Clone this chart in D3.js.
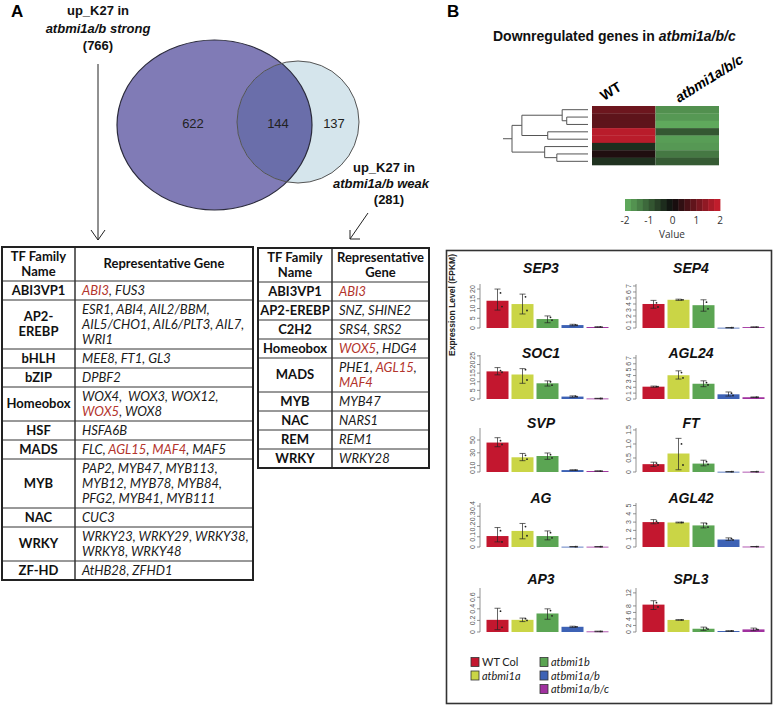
<!DOCTYPE html>
<html><head><meta charset="utf-8">
<script src="https://cdn.jsdelivr.net/npm/d3@7/dist/d3.min.js"></script>
<style>body{margin:0;background:#fff}svg{display:block}</style>
</head><body>
<svg id="c" width="774" height="707"></svg>
<script>
// ---------------- DATA ----------------
const vennPrefix = "up_K27 in";
const vennSetNames = ["atbmi1a/b strong", "atbmi1a/b weak"];
const vennTotals = [766, 281];
const vennCounts = [622, 144, 137];

const redGenes = ["ABI3", "WOX5", "AGL15", "MAF4"];
const leftFamilies = [["ABI3VP1"], ["AP2-", "EREBP"], ["bHLH"], ["bZIP"], ["Homeobox"], ["HSF"], ["MADS"], ["MYB"], ["NAC"], ["WRKY"], ["ZF-HD"]];
const leftGenes = [
  ["ABI3, FUS3"],
  ["ESR1, ABI4, AIL2/BBM,", "AIL5/CHO1, AIL6/PLT3, AIL7,", "WRI1"],
  ["MEE8, FT1, GL3"],
  ["DPBF2"],
  ["WOX4,  WOX3, WOX12,", "WOX5, WOX8"],
  ["HSFA6B"],
  ["FLC, AGL15, MAF4, MAF5"],
  ["PAP2, MYB47, MYB113,", "MYB12, MYB78, MYB84,", "PFG2, MYB41, MYB111"],
  ["CUC3"],
  ["WRKY23, WRKY29, WRKY38,", "WRKY8, WRKY48"],
  ["AtHB28, ZFHD1"]
];
const midFamilies = [["ABI3VP1"], ["AP2-EREBP"], ["C2H2"], ["Homeobox"], ["MADS"], ["MYB"], ["NAC"], ["REM"], ["WRKY"]];
const midGenes = [["ABI3"], ["SNZ, SHINE2"], ["SRS4, SRS2"], ["WOX5, HDG4"], ["PHE1, AGL15,", "MAF4"], ["MYB47"], ["NARS1"], ["REM1"], ["WRKY28"]];

const heatColumns = ["WT", "atbmi1a/b/c"];
const heatWT = [1.0, 0.85, 0.85, 1.8, 1.8, -0.4, 0.2, -0.45];
const heatMut = [-1.6, -1.7, -1.9, -0.9, -1.75, -1.7, -1.3, -0.95];
// merges: [childA, childB, height]; ids < 8 are leaves, 8+ are merge nodes
const dendroMerges = [[1, 2, 0.28], [0, 8, 0.34], [3, 4, 0.53], [9, 10, 0.87], [6, 7, 0.41], [5, 12, 0.57], [11, 13, 1.0]];
const keyTicks = [-2, -1, 0, 1, 2];

const genotypes = ["WT Col", "atbmi1a", "atbmi1b", "atbmi1a/b", "atbmi1a/b/c"];
const genes = ["SEP3", "SEP4", "SOC1", "AGL24", "SVP", "FT", "AG", "AGL42", "AP3", "SPL3"];
const geneMean = [
  [14, 12.3, 4.6, 1.5, 0.5],
  [4.0, 4.7, 3.8, 0.05, 0.15],
  [16, 14.2, 9.1, 1.4, 0.3],
  [2.1, 4.05, 2.6, 0.8, 0.3],
  [46, 23, 25, 3, 1.5],
  [0.28, 0.66, 0.3, 0.01, 0.01],
  [0.107, 0.157, 0.107, 0.003, 0.003],
  [3.0, 2.95, 2.6, 0.9, 0.05],
  [0.21, 0.21, 0.32, 0.09, 0.01],
  [8.4, 3.7, 1.0, 0.3, 0.8]
];
const geneLo = [
  [9.2, 7.2, 2.7, 1.1, 0.3],
  [3.3, 4.6, 2.8, 0.03, 0.1],
  [14, 9.1, 7.5, 1.0, 0.2],
  [2.0, 3.4, 2.1, 0.5, 0.25],
  [39.5, 17.7, 19.8, 2.5, 1.2],
  [0.2, 0.08, 0.22, 0.005, 0.005],
  [0.05, 0.08, 0.07, 0.002, 0.002],
  [2.8, 2.9, 2.3, 0.8, 0.04],
  [0.04, 0.18, 0.22, 0.08, 0.005],
  [6.9, 3.6, 0.5, 0.2, 0.4]
];
const geneHi = [
  [20, 17.4, 6.2, 1.9, 0.7],
  [4.6, 4.8, 4.7, 0.07, 0.2],
  [18.2, 17.6, 10.5, 1.8, 0.4],
  [2.2, 4.8, 3.1, 1.2, 0.35],
  [53.6, 29, 29.7, 3.5, 1.8],
  [0.35, 1.2, 0.42, 0.015, 0.015],
  [0.19, 0.23, 0.157, 0.004, 0.004],
  [3.3, 3.0, 2.9, 1.1, 0.06],
  [0.41, 0.24, 0.4, 0.1, 0.015],
  [9.6, 3.8, 1.5, 0.4, 1.2]
];
const geneReps = [
  [[18, 11], [16, 9], [5.5, 4], [1.6, 1.4], [0.6, 0.5]],
  [[4.2, 3.5], [4.7, 4.7], [4.3, 3.2], [0.05, 0.05], [0.15, 0.15]],
  [[16.5, 15.5], [17, 11], [10, 8], [1.6, 1.3], [0.3, 0.3]],
  [[2.1, 2.1], [4.5, 3.6], [2.8, 2.4], [1.0, 0.6], [0.3, 0.3]],
  [[49, 43], [26, 20], [27, 22], [3, 3], [1.5, 1.5]],
  [[0.32, 0.25], [1.0, 0.25], [0.37, 0.27], [0.01, 0.01], [0.01, 0.01]],
  [[0.16, 0.05], [0.2, 0.11], [0.14, 0.09], [0.003, 0.003], [0.003, 0.003]],
  [[3.1, 2.9], [2.95, 2.95], [2.8, 2.4], [1.0, 0.85], [0.05, 0.05]],
  [[0.36, 0.08], [0.23, 0.2], [0.37, 0.28], [0.09, 0.09], [0.01, 0.01]],
  [[9.0, 7.7], [3.7, 3.7], [1.2, 0.9], [0.3, 0.3], [0.9, 0.7]]
];
const geneAxisMax = [22.6, 7.33, 25.5, 7.5, 68.75, 1.57, 0.43, 5.3, 0.76, 13.5];
const geneTicks = [
  [0, 5, 10, 15, 20],
  [0, 1, 2, 3, 4, 5, 6, 7],
  [0, 5, 10, 15, 20, 25],
  [0, 1, 2, 3, 4, 5, 6, 7],
  [0, 10, 30, 50],
  [0, 0.5, 1.0, 1.5],
  [0, 0.1, 0.2, 0.3, 0.4],
  [0, 1, 2, 3, 4, 5],
  [0, 0.2, 0.4, 0.6],
  [0, 2, 4, 6, 8, 12]
];
const geneTickLabels = [
  ["0", "5", "10", "15", "20"],
  ["0", "1", "2", "3", "4", "5", "6", "7"],
  ["0", "5", "10", "15", "20", "25"],
  ["0", "1", "2", "3", "4", "5", "6", "7"],
  ["0", "10", "30", "50"],
  ["0", "0.5", "1.0", "1.5"],
  ["0", "0.1", "0.2", "0.3", "0.4"],
  ["0", "1", "2", "3", "4", "5"],
  ["0", "0.2", "0.4", "0.6"],
  ["0", "2", "4", "6", "8", "12"]
];

// ---------------- DRAWING ----------------
const F = "'Liberation Sans', Arial, sans-serif";
const FT = "Lato, 'Open Sans', sans-serif";
const svg = d3.select("#c");
const colors = ["#c3172f", "#cad546", "#5ba553", "#3d62b5", "#a0319f"];

svg.append("text").attr("x", 11).attr("y", 17).attr("font-family", F).attr("font-weight", "bold").attr("font-size", 17).text("A");
svg.append("text").attr("x", 447).attr("y", 17).attr("font-family", F).attr("font-weight", "bold").attr("font-size", 17).text("B");

// ---- Venn ----
const venn = svg.append("g");
const bigC = {cx: 214.5, cy: 125, rx: 97.5, ry: 85};
const smC = {cx: 298, cy: 122, r: 61};
const defs = svg.append("defs");
defs.append("clipPath").attr("id", "bigclip").append("ellipse")
  .attr("cx", bigC.cx).attr("cy", bigC.cy).attr("rx", bigC.rx).attr("ry", bigC.ry);
venn.append("ellipse").attr("cx", bigC.cx).attr("cy", bigC.cy).attr("rx", bigC.rx).attr("ry", bigC.ry).attr("fill", "#807bb6");
venn.append("circle").attr("cx", smC.cx).attr("cy", smC.cy).attr("r", smC.r).attr("fill", "#d5e5ec");
venn.append("circle").attr("cx", smC.cx).attr("cy", smC.cy).attr("r", smC.r).attr("fill", "#6a6eaa").attr("clip-path", "url(#bigclip)");
venn.append("ellipse").attr("cx", bigC.cx).attr("cy", bigC.cy).attr("rx", bigC.rx).attr("ry", bigC.ry).attr("fill", "none").attr("stroke", "#2b2b3c").attr("stroke-width", 1.2);
venn.append("circle").attr("cx", smC.cx).attr("cy", smC.cy).attr("r", smC.r).attr("fill", "none").attr("stroke", "#555").attr("stroke-width", 1);
const countX = [193, 278, 334];
venn.selectAll("text.cnt").data(vennCounts).join("text").attr("class", "cnt")
  .attr("x", (d, i) => countX[i]).attr("y", 128).attr("text-anchor", "middle")
  .attr("font-family", F).attr("font-size", 13).attr("fill", "#222").text(d => d);

function setLabel(cx, ys, i) {
  const g = svg.append("g").attr("font-family", F).attr("font-weight", "bold").attr("font-size", 13).attr("text-anchor", "middle").attr("fill", "#111");
  g.append("text").attr("x", cx[0]).attr("y", ys[0]).text(vennPrefix);
  g.append("text").attr("x", cx[1]).attr("y", ys[1]).attr("font-style", "italic").text(vennSetNames[i]);
  g.append("text").attr("x", cx[2]).attr("y", ys[2]).text("(" + vennTotals[i] + ")");
}
setLabel([98, 98, 98], [15, 33, 50], 0);
setLabel([384, 381, 389], [172, 188, 204], 1);

// arrows
const arr = svg.append("g").attr("stroke", "#222").attr("stroke-width", 1).attr("fill", "none");
arr.append("path").attr("d", "M98,64 L98,240 M91,230 L98,240 L105,230");
arr.append("path").attr("d", "M368,213 L350,239 M350,230 L350,239 L360,239");

// ---- Tables ----
const L = 15, PAD = 4;
function drawTable(x0, xs, x1, top, headL, headR, fams, genesArr) {
  const g = svg.append("g");
  const rows = fams.map((f, i) => Math.max(f.length, genesArr[i].length));
  const headH = 2 * L + PAD;
  let y = top + headH;
  const tops = rows.map(n => { const t = y; y += n * L + PAD; return t; });
  const bottom = y;
  function block(lines, cx, rTop, rH, italic, anchor, tokenize) {
    const n = lines.length;
    const start = rTop + (rH - n * L) / 2;
    lines.forEach((ln, k) => {
      const t = g.append("text").attr("x", cx).attr("y", start + k * L + L * 0.77)
        .attr("font-family", FT).attr("font-size", 13).attr("text-anchor", anchor)
        .attr("font-weight", italic ? "normal" : "bold").attr("font-style", italic ? "italic" : "normal").attr("fill", "#111")
        .attr("xml:space", "preserve");
      if (tokenize) {
        ln.split(/([A-Za-z0-9\/]+)/).forEach(p => {
          if (!p) return;
          t.append("tspan").attr("fill", redGenes.includes(p) ? "#b3342c" : "#1a1a1a").text(p);
        });
      } else t.text(ln);
    });
  }
  block(headL, (x0 + xs) / 2, top, headH, false, "middle", false);
  block(headR, (xs + x1) / 2, top, headH, false, "middle", false);
  fams.forEach((f, i) => {
    const h = rows[i] * L + PAD;
    block(f, (x0 + xs) / 2, tops[i], h, false, "middle", false);
    block(genesArr[i], xs + 7, tops[i], h, true, "start", true);
  });
  const ln = g.append("g").attr("stroke", "#333");
  tops.forEach(t => ln.append("line").attr("x1", x0).attr("x2", x1).attr("y1", t).attr("y2", t).attr("stroke-width", 1));
  ln.append("line").attr("x1", xs).attr("x2", xs).attr("y1", top).attr("y2", bottom).attr("stroke-width", 1.5);
  ln.append("rect").attr("x", x0).attr("y", top).attr("width", x1 - x0).attr("height", bottom - top).attr("fill", "none").attr("stroke-width", 2).attr("stroke", "#222");
}
drawTable(2, 75, 253, 247, ["TF Family", "Name"], ["Representative Gene"], leftFamilies, leftGenes);
drawTable(258, 332, 429, 248, ["TF Family", "Name"], ["Representative", "Gene"], midFamilies, midGenes);

// ---- Heatmap ----
svg.append("text").attr("x", 493).attr("y", 41).attr("font-family", F).attr("font-weight", "bold").attr("font-size", 14).attr("fill", "#111")
  .call(t => { t.append("tspan").text("Downregulated genes in "); t.append("tspan").attr("font-style", "italic").text(heatColumns[1]); });
const hx = d3.scaleBand().domain(heatColumns).range([592, 719]);
const hy = d3.scaleBand().domain(d3.range(heatWT.length)).range([106, 165]);
const hcol = d3.scaleLinear().domain([-2, 0, 2]).range(["#63b160", "#0d0d0d", "#cc1e2e"]).clamp(true);
const hm = svg.append("g");
[heatWT, heatMut].forEach((vals, c) => {
  hm.selectAll(null).data(vals).join("rect")
    .attr("x", hx(heatColumns[c])).attr("width", hx.bandwidth())
    .attr("y", (d, i) => hy(i)).attr("height", hy.bandwidth() + 0.3)
    .attr("fill", d => hcol(d));
});
svg.append("text").attr("transform", "translate(604,101) rotate(-32)").attr("font-family", F).attr("font-weight", "bold").attr("font-size", 14).text(heatColumns[0]);
svg.append("text").attr("transform", "translate(679,103) rotate(-32)").attr("font-family", F).attr("font-weight", "bold").attr("font-style", "italic").attr("font-size", 14).text(heatColumns[1]);
// dendrogram
const dx = d3.scaleLinear().domain([0, 1]).range([588, 512]);
const nodes = d3.range(heatWT.length).map(i => ({y: hy(i) + hy.bandwidth() / 2, x: dx(0)}));
const dg = svg.append("g").attr("stroke", "#555").attr("stroke-width", 1).attr("fill", "none");
dendroMerges.forEach(([a, b, h]) => {
  const A = nodes[a], B = nodes[b], x = dx(h);
  dg.append("path").attr("d", `M${A.x},${A.y}H${x}V${B.y}H${B.x}`);
  nodes.push({x: x, y: (A.y + B.y) / 2});
});
const root = nodes[nodes.length - 1];
dg.append("path").attr("d", `M${root.x},${root.y}H${root.x - 9}`);
// key
const kx = d3.scaleLinear().domain([-2, 2]).range([625, 720]);
const nb = 16;
const kg = svg.append("g");
kg.selectAll(null).data(d3.range(nb)).join("rect")
  .attr("x", i => kx(-2 + 4 * i / nb)).attr("width", (kx(2) - kx(-2)) / nb + 0.4)
  .attr("y", 199).attr("height", 12)
  .attr("fill", i => hcol(-2 + 4 * (i + 0.5) / nb));
kg.selectAll(null).data(keyTicks).join("text").attr("x", d => kx(d)).attr("y", 224).attr("text-anchor", "middle")
  .attr("font-family", "'Open Sans', sans-serif").attr("font-size", 10).attr("fill", "#333").text(d => d);
kg.append("text").attr("x", 672).attr("y", 238).attr("text-anchor", "middle").attr("font-family", "'Open Sans', sans-serif").attr("font-size", 10).attr("fill", "#333").text("Value");

// ---- Bar charts ----
svg.append("rect").attr("x", 446.5).attr("y", 250.5).attr("width", 325).attr("height", 453).attr("fill", "none").attr("stroke", "#333").attr("stroke-width", 1.6);
svg.append("text").attr("transform", "translate(455,305) rotate(-90)").attr("text-anchor", "middle")
  .attr("font-family", F).attr("font-weight", "bold").attr("font-size", 8.5).attr("fill", "#222").text("Expression Level (FPKM)");

const colAxisX = [480, 636];
const colRange = [[485, 610], [641, 766]];
const colTitleX = [541, 691];
const rowBase = [328, 399, 472, 547, 632];
const titleBase = [273, 358, 428, 503, 584];
const plotH = 44;

genes.forEach((gname, gi) => {
  const c = gi % 2, r = Math.floor(gi / 2);
  const g = svg.append("g");
  const x = d3.scaleBand().domain(genotypes).range(colRange[c]).paddingInner(0.12).paddingOuter(0.06);
  const y = d3.scaleLinear().domain([0, geneAxisMax[gi]]).range([rowBase[r], rowBase[r] - plotH]);
  g.append("text").attr("x", colTitleX[c]).attr("y", titleBase[r]).attr("text-anchor", "middle")
    .attr("font-family", F).attr("font-weight", "bold").attr("font-style", "italic").attr("font-size", 14).attr("fill", "#111").text(gname);
  const ax = colAxisX[c];
  g.append("line").attr("x1", ax).attr("x2", ax).attr("y1", y(0)).attr("y2", y(geneAxisMax[gi])).attr("stroke", "#777").attr("stroke-width", 0.8);
  g.selectAll(null).data(geneTicks[gi]).join("line").attr("x1", ax - 3).attr("x2", ax).attr("y1", d => y(d)).attr("y2", d => y(d)).attr("stroke", "#777").attr("stroke-width", 0.8);
  g.selectAll(null).data(geneTicks[gi]).join("text")
    .attr("transform", d => `translate(${ax - 5},${y(d)}) rotate(-90)`).attr("text-anchor", "middle")
    .attr("font-family", F).attr("font-size", 7).attr("fill", "#555").text((d, i) => geneTickLabels[gi][i]);
  g.selectAll(null).data(geneMean[gi]).join("rect")
    .attr("x", (d, i) => x(genotypes[i])).attr("width", x.bandwidth())
    .attr("y", d => y(d)).attr("height", d => Math.max(0.8, y(0) - y(d)))
    .attr("fill", (d, i) => colors[i]);
  const eb = g.append("g").attr("stroke", "#222").attr("stroke-width", 0.7);
  geneMean[gi].forEach((m, i) => {
    const cx = x(genotypes[i]) + x.bandwidth() / 2;
    const y1 = y(geneLo[gi][i]), y2 = y(geneHi[gi][i]);
    eb.append("line").attr("x1", cx).attr("x2", cx).attr("y1", y1).attr("y2", y2);
    eb.append("line").attr("x1", cx - 3).attr("x2", cx + 3).attr("y1", y1).attr("y2", y1);
    eb.append("line").attr("x1", cx - 3).attr("x2", cx + 3).attr("y1", y2).attr("y2", y2);
    geneReps[gi][i].forEach((v, k) => {
      g.append("circle").attr("cx", cx + 3 + k * 1.5).attr("cy", y(v)).attr("r", 0.9).attr("fill", "#222");
    });
  });
});

// legend
const legPos = [[471, 662], [471, 675.5], [540, 662], [540, 675.5], [540, 689]];
const lg = svg.append("g");
genotypes.forEach((gt, i) => {
  const [lx, ly] = legPos[i];
  lg.append("rect").attr("x", lx).attr("y", ly - 4.5).attr("width", 8).attr("height", 9).attr("fill", colors[i]).attr("stroke", "#333").attr("stroke-width", 0.8);
  lg.append("text").attr("x", lx + 11).attr("y", ly + 4).attr("font-family", FT).attr("font-size", 11)
    .attr("font-style", i === 0 ? "normal" : "italic").attr("fill", "#222").text(gt);
});
</script>
</body></html>
